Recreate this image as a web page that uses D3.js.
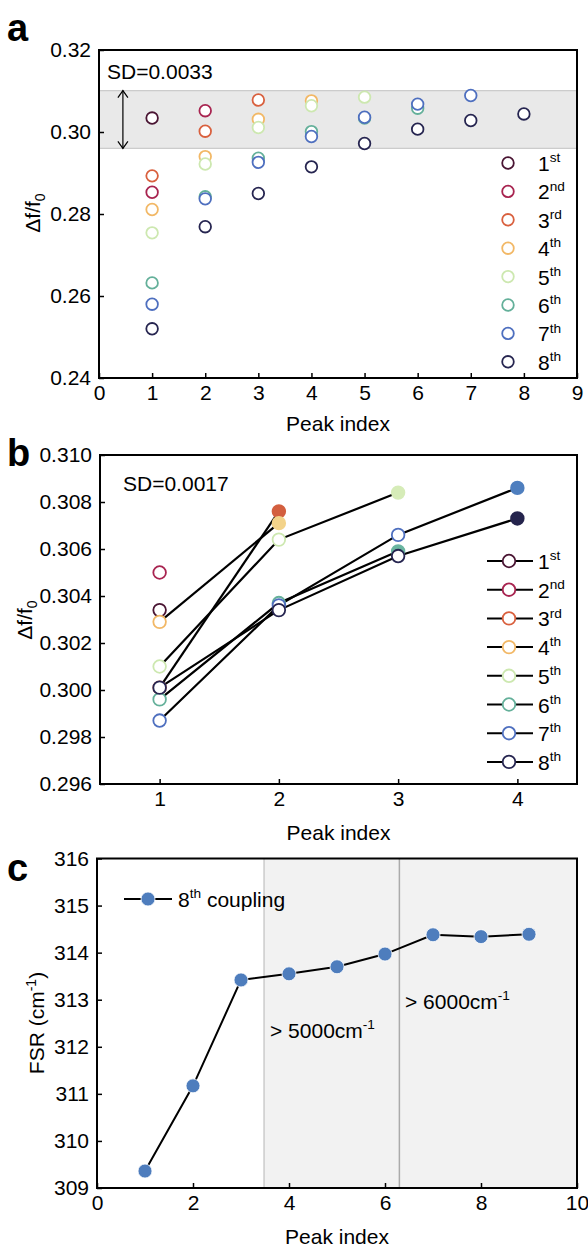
<!DOCTYPE html>
<html><head><meta charset="utf-8">
<script src="https://cdn.jsdelivr.net/npm/d3@7"></script>
<style>body{margin:0;background:#fff}svg{display:block;font-family:"Liberation Sans",Arial,sans-serif}</style>
</head><body><svg id="c" width="588" height="1248"></svg>
<script>
// ---------- data ----------
const couplingNums = ["1","2","3","4","5","6","7","8"];
const couplingSup = ["st","nd","rd","th","th","th","th","th"];
const colors = ["#4a1533","#a82450","#d9603e","#f2b866","#cde8b0","#64b09a","#4e6fbf","#262550"];
const fillColors = ["#4a1533","#a82450","#d35f3f","#f3d38a","#d6ecb8","#6ab5a0","#4f7fbf","#25244d"];

// panel a: Δf/f0 for peaks 1..n of the n-th coupling
const a1 = [0.3034];
const a2 = [0.2853, 0.3052];
const a3 = [0.2893, 0.3002, 0.3078];
const a4 = [0.2811, 0.2940, 0.3031, 0.3076];
const a5 = [0.2754, 0.2922, 0.3011, 0.3064, 0.3085];
const a6 = [0.2632, 0.2842, 0.2936, 0.3001, 0.3034, 0.3058];
const a7 = [0.2580, 0.2837, 0.2926, 0.2989, 0.3036, 0.3068, 0.3089];
const a8 = [0.2520, 0.2769, 0.2850, 0.2915, 0.2972, 0.3007, 0.3028, 0.3044];
const bandA = [0.2960, 0.3101];
const xTicksA = [0,1,2,3,4,5,6,7,8,9];
const yTicksA = [0.24,0.26,0.28,0.30,0.32];

// panel b
const b1 = [0.3034];
const b2 = [0.3050];
const b3 = [0.3001, 0.3076];
const b4 = [0.3029, 0.3071];
const b5 = [0.3010, 0.3064, 0.3084];
const b6 = [0.2996, 0.3037, 0.3059];
const b7 = [0.2987, 0.3036, 0.3066, 0.3086];
const b8 = [0.3001, 0.3034, 0.3057, 0.3073];
const xTicksB = [1,2,3,4];
const yTicksB = [0.296,0.298,0.300,0.302,0.304,0.306,0.308,0.310];

// panel c
const peaksC = [1,2,3,4,5,6,7,8,9];
const fsrC = [309.36, 311.17, 313.42, 313.55, 313.70, 313.97, 314.38, 314.34, 314.39];
const regionsC = [[3.48, 6.3], [6.3, 10]];
const xTicksC = [0,2,4,6,8,10];
const yTicksC = [309,310,311,312,313,314,315,316];

const seriesA = [a1,a2,a3,a4,a5,a6,a7,a8];
const seriesB = [b1,b2,b3,b4,b5,b6,b7,b8];

// ---------- drawing ----------
const svg = d3.select("#c");
svg.append("rect").attr("width",588).attr("height",1248).attr("fill","#fff");
const FS = 21;

function axes(g, x, y, xt, yt, xf, yf){
  const ax = g.append("g").attr("transform",`translate(0,${y.range()[0]})`)
    .call(d3.axisBottom(x).tickValues(xt).tickFormat(xf).tickSize(-5).tickPadding(7));
  const ay = g.append("g").attr("transform",`translate(${x.range()[0]},0)`)
    .call(d3.axisLeft(y).tickValues(yt).tickFormat(yf).tickSize(-5).tickPadding(8));
  [ax,ay].forEach(a=>{
    a.select(".domain").remove();
    a.selectAll("line").attr("stroke","#000").attr("stroke-width",1.5);
    a.selectAll("text").attr("font-size",FS).attr("fill","#000").attr("font-family",'"Liberation Sans",Arial,sans-serif');
  });
}
function frame(g, x, y){
  g.append("rect").attr("x",x.range()[0]).attr("y",y.range()[1])
    .attr("width",x.range()[1]-x.range()[0]).attr("height",y.range()[0]-y.range()[1])
    .attr("fill","none").attr("stroke","#000").attr("stroke-width",2);
}
function supText(g, x, yy, base, sup, size, anchor){
  const t = g.append("text").attr("x",x).attr("y",yy).attr("font-size",size).attr("fill","#000")
    .attr("text-anchor",anchor||"start");
  t.append("tspan").text(base);
  t.append("tspan").attr("font-size",size*0.65).attr("dy",-size*0.42).text(sup);
  return t;
}
function yLabelDf(g, cx, cy){
  const t = g.append("text").attr("transform",`translate(${cx},${cy}) rotate(-90)`)
    .attr("text-anchor","middle").attr("font-size",FS).attr("fill","#000");
  t.append("tspan").text("Δf/f");
  t.append("tspan").attr("font-size",14).attr("dy",5).text("0");
}
function panelLetter(t, x, y){
  svg.append("text").attr("x",x).attr("y",y).attr("font-size",38).attr("font-weight","bold").text(t);
}

// ===== panel a =====
{
  const g = svg.append("g");
  const x = d3.scaleLinear().domain([0,9]).range([99,577]);
  const y = d3.scaleLinear().domain([0.24,0.32]).range([378,50]);
  g.append("rect").attr("x",x(0)).attr("width",x(9)-x(0)).attr("y",y(bandA[1])).attr("height",y(bandA[0])-y(bandA[1]))
    .attr("fill","#e9e9e9");
  [bandA[0],bandA[1]].forEach(v=>g.append("line").attr("x1",x(0)).attr("x2",x(9)).attr("y1",y(v)).attr("y2",y(v))
    .attr("stroke","#cccccc").attr("stroke-width",1.2));
  // double arrow
  const ax = x(0.45);
  g.append("line").attr("x1",ax).attr("x2",ax).attr("y1",y(bandA[1])).attr("y2",y(bandA[0])).attr("stroke","#000").attr("stroke-width",1.2);
  [[y(bandA[1]),1],[y(bandA[0]),-1]].forEach(([yy,d])=>{
    g.append("path").attr("d",`M${ax-5},${yy+7*d}L${ax},${yy}L${ax+5},${yy+7*d}`).attr("fill","none").attr("stroke","#000").attr("stroke-width",1.2);
  });
  seriesA.forEach((s,i)=>{
    g.selectAll(null).data(s).enter().append("circle")
      .attr("cx",(d,j)=>x(j+1)).attr("cy",d=>y(d)).attr("r",5.8)
      .attr("fill","#fff").attr("stroke",colors[i]).attr("stroke-width",1.8);
  });
  frame(g,x,y);
  axes(g,x,y,xTicksA,yTicksA,d3.format("d"),d3.format(".2f"));
  g.append("text").attr("x",107).attr("y",79).attr("font-size",FS).text("SD=0.0033");
  // legend
  couplingNums.forEach((n,i)=>{
    const yy = 163 + i*28.4;
    g.append("circle").attr("cx",508).attr("cy",yy).attr("r",5.8).attr("fill","#fff").attr("stroke",colors[i]).attr("stroke-width",1.8);
    supText(g,538,yy+8,n,couplingSup[i],FS);
  });
  yLabelDf(g,40,213);
  g.append("text").attr("x",(x(0)+x(9))/2).attr("y",431).attr("text-anchor","middle").attr("font-size",FS).text("Peak index");
  panelLetter("a",7,41);
}

// ===== panel b =====
{
  const g = svg.append("g");
  const x = d3.scaleLinear().domain([0.5,4.5]).range([100,577]);
  const y = d3.scaleLinear().domain([0.296,0.310]).range([784,455]);
  const line = d3.line().x((d,j)=>x(j+1)).y(d=>y(d));
  seriesB.forEach(s=>{ if(s.length>1) g.append("path").attr("d",line(s)).attr("fill","none").attr("stroke","#000").attr("stroke-width",2.2); });
  seriesB.forEach((s,i)=>{
    g.selectAll(null).data(s).enter().append("circle")
      .attr("cx",(d,j)=>x(j+1)).attr("cy",d=>y(d)).attr("r",6.3)
      .attr("fill",(d,j)=> (s.length>1 && j===s.length-1) ? fillColors[i] : "#fff")
      .attr("stroke",(d,j)=> (s.length>1 && j===s.length-1) ? fillColors[i] : colors[i]).attr("stroke-width",1.8);
  });
  frame(g,x,y);
  axes(g,x,y,xTicksB,yTicksB,d3.format("d"),d3.format(".3f"));
  g.append("text").attr("x",123).attr("y",491).attr("font-size",FS).text("SD=0.0017");
  couplingNums.forEach((n,i)=>{
    const yy = 561 + i*28.7;
    g.append("line").attr("x1",487).attr("x2",533).attr("y1",yy).attr("y2",yy).attr("stroke","#000").attr("stroke-width",2);
    g.append("circle").attr("cx",509).attr("cy",yy).attr("r",6.3).attr("fill","#fff").attr("stroke",colors[i]).attr("stroke-width",1.8);
    supText(g,538,yy+8,n,couplingSup[i],FS);
  });
  yLabelDf(g,32,620);
  g.append("text").attr("x",(x(0.5)+x(4.5))/2).attr("y",840).attr("text-anchor","middle").attr("font-size",FS).text("Peak index");
  panelLetter("b",7,466);
}

// ===== panel c =====
{
  const g = svg.append("g");
  const x = d3.scaleLinear().domain([0,10]).range([97,577]);
  const y = d3.scaleLinear().domain([309,316]).range([1188,858.5]);
  regionsC.forEach(r=>g.append("rect").attr("x",x(r[0])).attr("width",x(r[1])-x(r[0])).attr("y",y(316)).attr("height",y(309)-y(316)).attr("fill","#f2f2f2"));
  g.append("line").attr("x1",x(regionsC[0][0])).attr("x2",x(regionsC[0][0])).attr("y1",y(316)).attr("y2",y(309)).attr("stroke","#cccccc").attr("stroke-width",1.5);
  g.append("line").attr("x1",x(regionsC[1][0])).attr("x2",x(regionsC[1][0])).attr("y1",y(316)).attr("y2",y(309)).attr("stroke","#ababab").attr("stroke-width",1.5);
  const line = d3.line().x((d,j)=>x(peaksC[j])).y(d=>y(d));
  g.append("path").attr("d",line(fsrC)).attr("fill","none").attr("stroke","#000").attr("stroke-width",2);
  g.selectAll(null).data(fsrC).enter().append("circle")
    .attr("cx",(d,j)=>x(peaksC[j])).attr("cy",d=>y(d)).attr("r",7)
    .attr("fill","#4e7dbd").attr("stroke","#fff").attr("stroke-width",0.8);
  frame(g,x,y);
  axes(g,x,y,xTicksC,yTicksC,d3.format("d"),d3.format("d"));
  // legend
  g.append("line").attr("x1",124).attr("x2",172).attr("y1",899).attr("y2",899).attr("stroke","#000").attr("stroke-width",2);
  g.append("circle").attr("cx",148).attr("cy",899).attr("r",7).attr("fill","#4e7dbd").attr("stroke","#fff").attr("stroke-width",0.8);
  const lt = supText(g,178,907,"8","th",FS);
  lt.append("tspan").attr("dy",FS*0.42).text(" coupling");
  supText(g,270,1038,"> 5000cm","-1",FS);
  supText(g,405,1009,"> 6000cm","-1",FS);
  const yl = g.append("text").attr("transform",`translate(44,1023) rotate(-90)`).attr("text-anchor","middle").attr("font-size",FS);
  yl.append("tspan").text("FSR (cm");
  yl.append("tspan").attr("font-size",14).attr("dy",-8).text("-1");
  yl.append("tspan").attr("dy",8).text(")");
  g.append("text").attr("x",(x(0)+x(10))/2).attr("y",1244).attr("text-anchor","middle").attr("font-size",FS).text("Peak index");
  panelLetter("c",7,881);
}
</script></body></html>
